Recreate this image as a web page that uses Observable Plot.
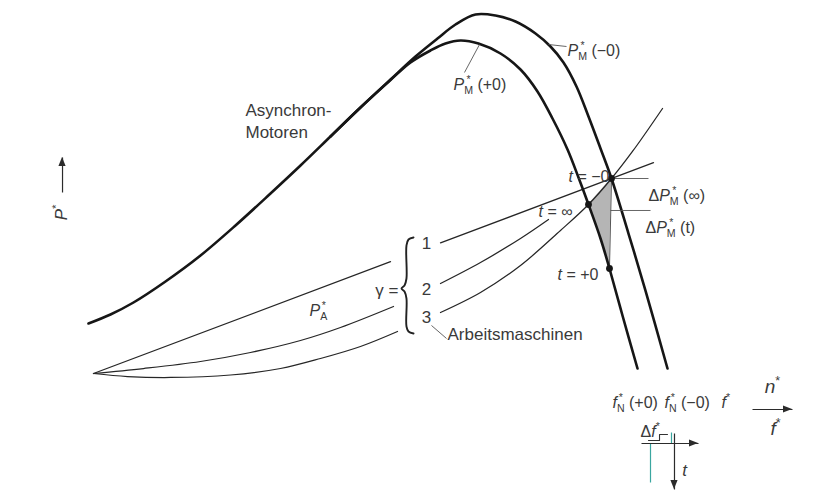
<!DOCTYPE html>
<html>
<head>
<meta charset="utf-8">
<script src="https://cdn.jsdelivr.net/npm/d3@7"></script>
<script src="https://cdn.jsdelivr.net/npm/@observablehq/plot@0.6"></script>
<style>
  html, body { margin: 0; padding: 0; background: #fff; }
  #chart svg { display: block; }
</style>
</head>
<body>
<div id="chart"></div>
<script>
// Normalised speed n* (x) and power P* (y); the rated operating point t = −0 is (1, 1).

// Motor characteristic before the frequency step, P_M*(−0)
const motorBefore = [
  [-0.0097, 0.2564], [0.0328, 0.3026], [0.0772, 0.3641], [0.1390, 0.4718],
  [0.2066, 0.6051], [0.2741, 0.7590], [0.3417, 0.9231], [0.3996, 1.0667],
  [0.4575, 1.2154], [0.5154, 1.3641], [0.5734, 1.5077], [0.6216, 1.6256],
  [0.6641, 1.7179], [0.6988, 1.7897], [0.7375, 1.8410], [0.7761, 1.8359],
  [0.8147, 1.8051], [0.8533, 1.7436], [0.8822, 1.6769], [0.9073, 1.5949],
  [0.9324, 1.4718], [0.9556, 1.3179], [0.9788, 1.1538], [1.0000, 1.0000],
  [1.0328, 0.7179], [1.0656, 0.4256], [1.1081, 0.0256]
];

// Motor characteristic after the frequency step, P_M*(+0)
const motorAfter = [
  [0.4575, 1.2154], [0.5154, 1.3641], [0.5734, 1.5051], [0.6120, 1.5949],
  [0.6506, 1.6564], [0.6795, 1.6923], [0.7085, 1.7077], [0.7432, 1.6923],
  [0.7857, 1.6410], [0.8243, 1.5590], [0.8571, 1.4462], [0.8861, 1.3077],
  [0.9151, 1.1487], [0.9363, 1.0051], [0.9556, 0.8667], [0.9788, 0.6923],
  [0.9961, 0.5385], [1.0212, 0.2974], [1.0502, 0.0256]
];

// Driven-machine characteristics P_A* for γ = 1, 2, 3 (null = gap behind a label)
const load1 = [[0, 0], [0.5734, 0.5734], null, [0.6699, 0.6699], [1.0811, 1.0811]];
const load2 = [
  [0, 0], [0.0965, 0.0256], [0.2066, 0.0615], [0.3031, 0.1077], [0.3996, 0.1692],
  [0.4768, 0.2359], [0.5792, 0.3436], null,
  [0.6699, 0.4615], [0.7471, 0.5692], [0.8243, 0.6923], [0.8784, 0.7897]
];
const load3 = [
  [0, 0], [0.0656, -0.0154], [0.1486, -0.0205], [0.2645, -0.0077], [0.3610, 0.0256],
  [0.4382, 0.0769], [0.5154, 0.1385], [0.5869, 0.2154], null,
  [0.6699, 0.3128], [0.7471, 0.4154], [0.8243, 0.5538], [0.9015, 0.7333],
  [0.9556, 0.8667], [1.0000, 1.0000], [1.0405, 1.1385], [1.0985, 1.3590]
];

// Operating points
const states = [
  {state: "t = −0", x: 1.0000, y: 1.0000},
  {state: "t = ∞",  x: 0.9556, y: 0.8667},
  {state: "t = +0", x: 0.9961, y: 0.5385}
];

// Power deficit region between the three operating points
const deficit = [
  {y: 1.0000, xl: 1.0000, xr: 1.0000},
  {y: 0.8667, xl: 0.9556, xr: 0.9989},
  {y: 0.6923, xl: 0.9788, xr: 0.9973},
  {y: 0.5385, xl: 0.9961, xr: 0.9961}
];

// Curly brace grouping γ = 1, 2, 3
const brace = [
  [0.6178, 0.6974], [0.6081, 0.6872], [0.6042, 0.6564], [0.6042, 0.4872],
  [0.6004, 0.4513], [0.5946, 0.4359], [0.6004, 0.4205], [0.6042, 0.3846],
  [0.6042, 0.2410], [0.6081, 0.2154], [0.6178, 0.2051]
];

// Leader lines
const leaders = [
  {x1: 0.8784, y1: 1.6872, x2: 0.9131, y2: 1.6769},
  {x1: 0.7452, y1: 1.6872, x2: 0.7162, y2: 1.5436},
  {x1: 1.0000, y1: 1.0000, x2: 1.0714, y2: 1.0000},
  {x1: 0.9981, y1: 0.8359, x2: 1.0753, y2: 0.8359},
  {x1: 0.6525, y1: 0.2462, x2: 0.6815, y2: 0.1795}
];

// Text labels (markup: %…% italic, _x subscript, ^x superscript)
const words = [
  {text: "Asynchron-", x: 0.2934, y: 1.3487},
  {text: "Motoren", x: 0.2934, y: 1.2359},
  {text: "Arbeitsmaschinen", x: 0.6834, y: 0.2000}
];
const formulas = [
  {text: "%P%_M^* (−0)", x: 0.9151, y: 1.6564},
  {text: "%P%_M^* (+0)", x: 0.6950, y: 1.4821},
  {text: "%t% = −0", x: 0.9170, y: 1.0103},
  {text: "%t% = ∞", x: 0.8591, y: 0.8308},
  {text: "%t% = +0", x: 0.8958, y: 0.5077},
  {text: "Δ%P%_M^* (∞)", x: 1.0714, y: 0.9128},
  {text: "Δ%P%_M^* (t)", x: 1.0656, y: 0.7487},
  {text: "%P%_A^*", x: 0.4170, y: 0.3231},
  {text: "%f%_N^* (+0)", x: 1.0019, y: -0.1487},
  {text: "%f%_N^* (−0)", x: 1.1023, y: -0.1487},
  {text: "%f%^*", x: 1.2124, y: -0.1487},
  {text: "Δ%f%^*", x: 1.0560, y: -0.2974}
];
const gammaLabel = [{text: "γ =", x: 0.5888, y: 0.4256}];
const gammaValues = [
  {text: "1", x: 0.6429, y: 0.6667},
  {text: "2", x: 0.6429, y: 0.4308},
  {text: "3", x: 0.6429, y: 0.2872}
];
const axisLabels = [
  {text: "%n%^*", x: 1.3108, y: -0.0667},
  {text: "%f%^*", x: 1.3166, y: -0.2821}
];
const timeLabel = [{text: "%t%", x: 1.1409, y: -0.4974}];
const powerLabel = [{text: "%P%^*", x: -0.0618, y: 0.8256}];

// Arrows (tail → tip): P* axis, n*/f* axis, and the small Δf*(t) sketch
const arrows = [
  {x1: -0.0598, y1: 0.9282, x2: -0.0598, y2: 1.1077},
  {x1: 1.2722, y1: -0.1846, x2: 1.3494, y2: -0.1846},
  {x1: 1.0579, y1: -0.3590, x2: 1.1680, y2: -0.3590},
  {x1: 1.1216, y1: -0.3077, x2: 1.1216, y2: -0.5949}
];
// Frequency step sketch (teal traces) and the step symbol under Δf*
const stepTraces = [
  {x1: 1.0753, y1: -0.3590, x2: 1.0753, y2: -0.5590},
  {x1: 1.1158, y1: -0.3026, x2: 1.1158, y2: -0.3590}
];
const stepSymbol = [[1.0714, -0.3436], [1.0927, -0.3436], [1.0927, -0.3128], [1.1081, -0.3128]];

const ink = "#161616";
const grey = "#3a3a3a";
const font = "Liberation Sans, Arial, sans-serif";
const px = d => d?.[0];
const py = d => d?.[1];

// Filled arrowheads: a small triangle at each tip, sized in screen pixels
// (518 px per unit of n*, 195 px per unit of P*).
const headLen = 9, headHalf = 3.6;
const headsH = [], headsV = [];
arrows.forEach((a, id) => {
  if (a.y1 === a.y2) {
    const s = Math.sign(a.x2 - a.x1);
    headsH.push({id, x: a.x2 - s * headLen / 518, y1: a.y2 - headHalf / 195, y2: a.y2 + headHalf / 195});
    headsH.push({id, x: a.x2, y1: a.y2, y2: a.y2});
  } else {
    const s = Math.sign(a.y2 - a.y1);
    headsV.push({id, y: a.y2 - s * headLen / 195, x1: a.x2 - headHalf / 518, x2: a.x2 + headHalf / 518});
    headsV.push({id, y: a.y2, x1: a.x2, x2: a.x2});
  }
});

const chart = Plot.plot({
  width: 824,
  height: 492,
  margin: 0,
  x: {domain: [-93 / 518, 731 / 518], axis: null},
  y: {domain: [-119 / 195, 373 / 195], axis: null},
  style: {fontFamily: font, background: "#fff"},
  marks: [
    Plot.areaX(deficit, {y: "y", x1: "xl", x2: "xr", fill: "#b5b5b5"}),
    Plot.link([states[0]], {x1: "x", y1: "y", x2: () => states[2].x, y2: () => states[2].y, stroke: "#555", strokeWidth: 1}),
    Plot.line(load1, {x: px, y: py, stroke: "#262626", strokeWidth: 1.25}),
    Plot.line(load2, {x: px, y: py, stroke: "#262626", strokeWidth: 1.25, curve: "catmull-rom"}),
    Plot.line(load3, {x: px, y: py, stroke: "#262626", strokeWidth: 1.25, curve: "catmull-rom"}),
    Plot.line(motorBefore, {x: px, y: py, stroke: ink, strokeWidth: 2.6, curve: "catmull-rom"}),
    Plot.line(motorAfter, {x: px, y: py, stroke: ink, strokeWidth: 2.6, curve: "catmull-rom"}),
    Plot.line(brace, {x: px, y: py, stroke: "#222", strokeWidth: 1.9, curve: "catmull-rom"}),
    Plot.link(leaders, {x1: "x1", y1: "y1", x2: "x2", y2: "y2", stroke: "#555", strokeWidth: 0.9}),
    Plot.dot(states, {x: "x", y: "y", r: 3.4, fill: ink, stroke: "none"}),
    Plot.link(stepTraces, {x1: "x1", y1: "y1", x2: "x2", y2: "y2", stroke: "#3aa6a0", strokeWidth: 1.2}),
    Plot.link(arrows, {x1: "x1", y1: "y1", x2: "x2", y2: "y2", stroke: "#2b2b2b", strokeWidth: 1.2}),
    Plot.areaY(headsH, {x: "x", y1: "y1", y2: "y2", z: "id", fill: "#2b2b2b"}),
    Plot.areaX(headsV, {y: "y", x1: "x1", x2: "x2", z: "id", fill: "#2b2b2b"}),
    Plot.line(stepSymbol, {x: px, y: py, stroke: "#333", strokeWidth: 1.1}),
    Plot.text(words, {x: "x", y: "y", text: "text", textAnchor: "start", fontSize: 17, fill: grey}),
    Plot.text(formulas, {x: "x", y: "y", text: "text", textAnchor: "start", fontSize: 16, fill: grey}),
    Plot.text(gammaLabel, {x: "x", y: "y", text: "text", textAnchor: "end", fontSize: 17, fill: grey}),
    Plot.text(gammaValues, {x: "x", y: "y", text: "text", textAnchor: "middle", fontSize: 17, fill: grey}),
    Plot.text(axisLabels, {x: "x", y: "y", text: "text", textAnchor: "middle", fontSize: 19, fill: grey}),
    Plot.text(timeLabel, {x: "x", y: "y", text: "text", textAnchor: "middle", fontSize: 17, fill: grey}),
    Plot.text(powerLabel, {x: "x", y: "y", text: "text", textAnchor: "middle", rotate: -90, fontSize: 17, fill: grey})
  ]
});

document.getElementById("chart").appendChild(chart);

// Turn the label markup into italic / subscript / superscript tspans.
const NS = "http://www.w3.org/2000/svg";
function richText(el) {
  const src = el.textContent;
  if (!/[%_^]/.test(src)) return;
  const fs = parseFloat(getComputedStyle(el).fontSize) || 16;
  el.textContent = "";
  let italic = false, shift = 0, carry = 0, lastSub = null;
  const add = (s, small) => {
    const t = document.createElementNS(NS, "tspan");
    t.textContent = s;
    if (italic) t.setAttribute("font-style", "italic");
    if (small) t.setAttribute("font-size", (fs * 0.66).toFixed(1));
    el.appendChild(t);
    return t;
  };
  for (let i = 0; i < src.length; i++) {
    const c = src[i];
    if (c === "%") { italic = !italic; continue; }
    if (c === "_" || c === "^") {
      const ch = src[++i];
      const target = c === "_" ? fs * 0.28 : -fs * 0.42;
      const t = add(ch, true);
      t.setAttribute("dy", (target - shift).toFixed(2));
      shift = target;
      if (c === "^" && lastSub) {
        const w1 = lastSub.getComputedTextLength();
        const w2 = t.getComputedTextLength();
        t.setAttribute("dx", (-(w1 + w2) / 2).toFixed(2));
        carry = (w1 - w2) / 2;
        lastSub = null;
      } else {
        if (carry) { t.setAttribute("dx", carry.toFixed(2)); carry = 0; }
        lastSub = c === "_" ? t : null;
      }
      continue;
    }
    let j = i;
    while (j < src.length && !"%_^".includes(src[j])) j++;
    const t = add(src.slice(i, j), false);
    if (shift) { t.setAttribute("dy", (-shift).toFixed(2)); shift = 0; }
    if (carry) { t.setAttribute("dx", carry.toFixed(2)); carry = 0; }
    lastSub = null;
    i = j - 1;
  }
}
chart.querySelectorAll("text").forEach(richText);
</script>
</body>
</html>
